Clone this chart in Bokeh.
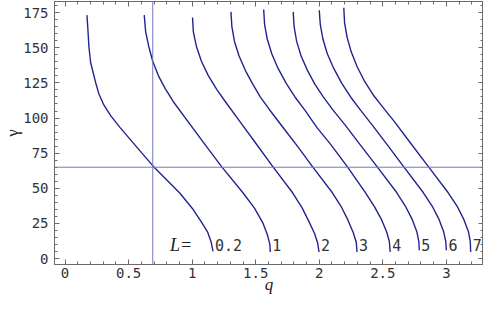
from bokeh.plotting import figure
from bokeh.models import LinearAxis, SingleIntervalTicker, Span, Range1d, CustomJSTickFormatter
from bokeh.core.properties import value
from bokeh.embed import file_html
from bokeh.resources import INLINE

# ---- data ----
L_labels = ["0.2", "1", "2", "3", "4", "5", "6", "7"]

q_L02 = [0.172, 0.180, 0.1875, 0.201, 0.240, 0.265, 0.305, 0.360, 0.435, 0.566, 0.695, 0.904, 1.008, 1.076, 1.123, 1.150, 1.164]
g_L02 = [173.2, 162.8, 151.1, 139.5, 125.5, 117.5, 109.3, 101.5, 93.0, 79.1, 65.6, 46.5, 34.9, 25.6, 18.6, 11.6, 5.2]

q_L1 = [0.623, 0.634, 0.658, 0.689, 0.734, 0.787, 0.852, 0.982, 1.103, 1.230, 1.398, 1.489, 1.555, 1.591, 1.611, 1.615]
g_L1 = [173.2, 161.5, 151.1, 140.6, 130.2, 121.1, 111.6, 95.7, 80.9, 65.6, 47.0, 36.1, 25.6, 17.2, 10.3, 4.7]

q_L2 = [1.003, 1.009, 1.033, 1.072, 1.127, 1.193, 1.263, 1.373, 1.502, 1.633, 1.789, 1.865, 1.919, 1.963, 1.988, 1.998]
g_L2 = [171.5, 161.5, 151.1, 140.6, 130.2, 120.4, 111.4, 97.8, 81.9, 65.6, 47.0, 36.1, 26.3, 17.9, 10.9, 4.7]

q_L3 = [1.305, 1.3125, 1.333, 1.369, 1.420, 1.478, 1.537, 1.607, 1.724, 1.834, 1.945, 2.102, 2.170, 2.224, 2.267, 2.291, 2.297]
g_L3 = [175.5, 165.0, 154.5, 144.1, 133.6, 123.9, 114.9, 106.1, 92.2, 79.3, 65.6, 47.0, 37.4, 27.7, 18.6, 11.6, 4.7]

q_L4 = [1.5625, 1.570, 1.591, 1.627, 1.677, 1.740, 1.810, 1.888, 1.982, 2.088, 2.219, 2.363, 2.435, 2.490, 2.529, 2.551, 2.558]
g_L4 = [177.1, 166.5, 156.0, 145.5, 135.1, 124.6, 114.8, 105.4, 93.2, 81.4, 65.6, 47.0, 36.8, 27.7, 19.3, 12.3, 4.7]

q_L5 = [1.795, 1.802, 1.822, 1.857, 1.908, 1.966, 2.033, 2.107, 2.201, 2.318, 2.453, 2.609, 2.677, 2.732, 2.767, 2.783, 2.787]
g_L5 = [175.5, 165.0, 154.5, 144.1, 133.7, 123.9, 114.9, 105.8, 95.3, 81.4, 65.6, 47.0, 37.4, 27.7, 19.3, 12.3, 5.9]

q_L6 = [2.000, 2.008, 2.029, 2.064, 2.115, 2.177, 2.248, 2.326, 2.420, 2.537, 2.662, 2.818, 2.888, 2.943, 2.978, 2.995, 3.000]
g_L6 = [176.7, 166.5, 156.0, 145.5, 135.1, 124.6, 114.8, 105.4, 94.6, 80.7, 65.6, 47.0, 37.4, 27.7, 19.3, 12.3, 5.9]

q_L7 = [2.193, 2.199, 2.219, 2.252, 2.298, 2.357, 2.423, 2.498, 2.591, 2.716, 2.857, 3.013, 3.084, 3.138, 3.173, 3.188, 3.191]
g_L7 = [178.5, 167.9, 157.4, 146.9, 136.5, 126.0, 116.6, 107.9, 97.4, 82.4, 65.6, 47.0, 37.4, 27.7, 19.3, 12.3, 4.7]

q_marker = 0.69
gamma_marker = 65
label_gamma = 10

curves_q = [q_L02, q_L1, q_L2, q_L3, q_L4, q_L5, q_L6, q_L7]
curves_g = [g_L02, g_L1, g_L2, g_L3, g_L4, g_L5, g_L6, g_L7]

# ---- styling ----
CURVE = "#23238f"
CROSS = "#7676c4"
FRAME = "#6a6a6a"
TICKFONT = "DejaVu Sans Mono"

p = figure(width=483, height=296, output_backend="svg", toolbar_location=None,
           x_range=Range1d(-0.083, 3.292), y_range=Range1d(-4.2, 182.9),
           min_border_left=0, min_border_right=0, min_border_top=1, min_border_bottom=0,
           background_fill_color="white", border_fill_color="white")
p.xgrid.visible = False
p.ygrid.visible = False
p.outline_line_color = FRAME

def style_axis(ax):
    ax.axis_line_color = FRAME
    ax.major_tick_line_color = FRAME
    ax.minor_tick_line_color = FRAME
    ax.major_tick_in = 5
    ax.major_tick_out = 0
    ax.minor_tick_in = 3
    ax.minor_tick_out = 0
    ax.major_label_text_font = TICKFONT
    ax.major_label_text_font_size = "14px"
    ax.major_label_text_color = "#333333"
    ax.major_label_text_line_height = 0.9

p.xaxis.ticker = SingleIntervalTicker(interval=0.5, num_minor_ticks=5)
p.yaxis.ticker = SingleIntervalTicker(interval=25, num_minor_ticks=5)
style_axis(p.xaxis[0])
style_axis(p.yaxis[0])
p.xaxis.major_label_standoff = 3
p.yaxis.major_label_standoff = 6
p.xaxis.axis_label = "q"
p.xaxis.axis_label_text_font = "Liberation Serif"
p.xaxis.axis_label_text_font_style = "italic"
p.xaxis.axis_label_text_font_size = "17px"
p.xaxis.axis_label_text_line_height = 0.8
p.xaxis.axis_label_standoff = -6
p.xaxis.axis_label_text_color = "#222222"
p.yaxis.axis_label = "γ"
p.yaxis.axis_label_text_font = "Liberation Serif"
p.yaxis.axis_label_text_font_style = "normal"
p.yaxis.axis_label_text_font_size = "17px"
p.yaxis.axis_label_standoff = -2
p.yaxis.axis_label_text_color = "#222222"

blank = CustomJSTickFormatter(code="return '';")
top = LinearAxis(ticker=SingleIntervalTicker(interval=0.5, num_minor_ticks=5), formatter=blank)
right = LinearAxis(ticker=SingleIntervalTicker(interval=25, num_minor_ticks=5), formatter=blank)
for ax in (top, right):
    style_axis(ax)
    ax.major_label_standoff = 0
    ax.major_label_text_font_size = "0px"
p.add_layout(top, "above")
p.add_layout(right, "right")

# crosshair
p.add_layout(Span(location=q_marker, dimension="height", line_color=CROSS, line_width=1))
p.add_layout(Span(location=gamma_marker, dimension="width", line_color=CROSS, line_width=1))

for qs, gs in zip(curves_q, curves_g):
    p.line(qs, gs, line_color=CURVE, line_width=1.4, line_join="round")

ends = [c[-1] for c in curves_q]
p.text(x=ends, y=[label_gamma] * len(ends), text=L_labels, x_offset=2,
       text_baseline="middle", text_align="left",
       text_font=value(TICKFONT), text_font_size="15px", text_color="#333333")
p.text(x=[ends[0]], y=[label_gamma], text=["L="], x_offset=-43,
       text_baseline="middle", text_align="left",
       text_font=value("Liberation Serif"), text_font_style="italic",
       text_font_size="18px", text_color="#222222")

open("out.html", "w").write(file_html(p, INLINE))
